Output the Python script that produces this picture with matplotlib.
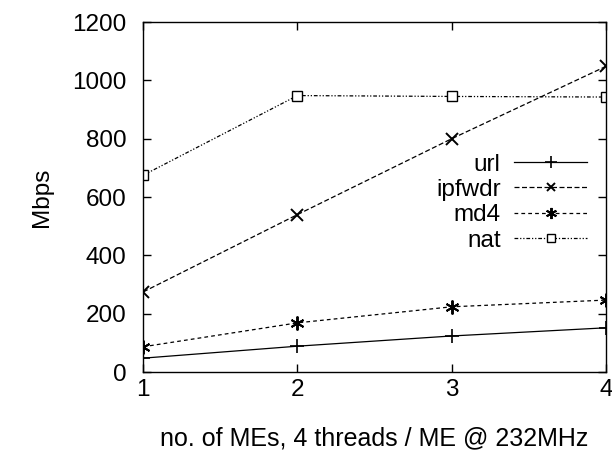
import matplotlib
matplotlib.use('Agg')
import matplotlib.pyplot as plt

plt.rcParams['font.family'] = ['Liberation Sans', 'DejaVu Sans']

mes = [1, 2, 3, 4]
url = [48, 89, 124, 152]
ipfwdr = [275, 540, 800, 1048]
md4 = [87, 169, 224, 247]
nat = [675, 948, 945, 943]

fig = plt.figure(figsize=(6.12, 4.5), dpi=100)
ax = fig.add_axes([0.234, 0.173, 0.756, 0.778])

lw = 0.9
ax.plot(mes, url, color='black', lw=lw, marker='+', ms=10, mew=1.2, label='url')
ax.plot(mes, ipfwdr, color='black', lw=lw, ls=(0, (4, 2)), marker='x', ms=8, mew=1.4, label='ipfwdr')
ax.plot(mes, md4, color='black', lw=lw, ls=(0, (3, 2.5)), marker=(6, 2, 0), ms=10, mew=1.4, label='md4')
ax.plot(mes, nat, color='black', lw=lw, ls=(0, (3, 1.5, 1, 1.5, 1, 1.5)), marker='s', ms=7,
        mfc='white', mew=1.0, label='nat')

ax.set_xlim(1, 4)
ax.set_ylim(0, 1200)
ax.set_xticks(mes)
ax.set_yticks(range(0, 1201, 200))
ax.tick_params(direction='in', top=True, right=True, length=6, width=1, labelsize=17.5)
ax.tick_params(axis='y', pad=12)
ax.tick_params(axis='x', pad=5)
for s in ax.spines.values():
    s.set_linewidth(1)

ax.set_xlabel('no. of MEs, 4 threads / ME @ 232MHz', fontsize=18, labelpad=18)
ax.set_ylabel('Mbps', fontsize=17.5, labelpad=14)

ax.legend(loc='upper right', bbox_to_anchor=(0.996, 0.673), frameon=False, markerfirst=False,
          fontsize=17.5, handlelength=3.0, labelspacing=0.14, handletextpad=0.55, borderpad=0.2,
          markerscale=0.8)

fig.savefig('out.png', dpi=100)
